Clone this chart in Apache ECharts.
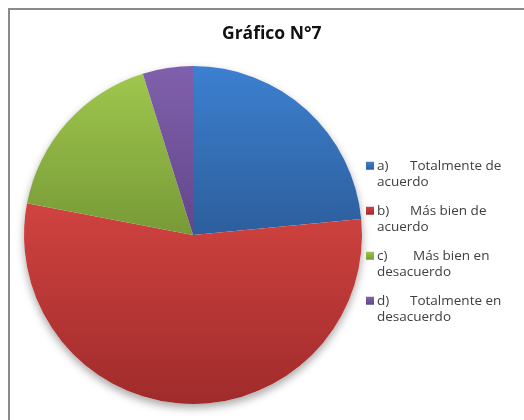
<!DOCTYPE html>
<html>
<head>
<meta charset="utf-8">
<script src="https://cdn.jsdelivr.net/npm/echarts@6/dist/echarts.min.js"></script>
<style>
    html, body {margin: 0; padding: 0; background: #fff;}
    #main {width: 524px; height: 420px;}
</style>
</head>
<body>
<div id="main"></div>
<script>
// datos
var categorias = ['a)', 'b)', 'c)', 'd)'];
var textos = ['Totalmente de\nacuerdo', 'Más bien de\nacuerdo', 'Más bien en\ndesacuerdo', 'Totalmente en\ndesacuerdo'];
var valores = [23.5, 54.5, 17.2, 4.8];
var coloresArriba = ['#3c80d0', '#d04340', '#9fc64d', '#8060ac'];
var coloresAbajo = ['#2d5e9c', '#a02b2b', '#779a37', '#62468a'];

var nombres = categorias.map(function (c, i) { return c + ' ' + textos[i]; });

var myChart = echarts.init(document.getElementById('main'));

var datos = valores.map(function (v, i) {
    return {
        value: v,
        name: nombres[i],
        itemStyle: {
            color: new echarts.graphic.LinearGradient(0, 0, 0, 1, [
                {offset: 0, color: coloresArriba[i]},
                {offset: 1, color: coloresAbajo[i]}
            ])
        }
    };
});

var option = {
    animation: false,
    graphic: [{
        type: 'rect',
        shape: {x: 9, y: 9, width: 600, height: 500},
        style: {fill: 'none', stroke: '#8a8a8a', lineWidth: 2},
        silent: true,
        z: -10
    }],
    title: {
        text: 'Gráfico N°7',
        left: 217,
        top: 20,
        textStyle: {
            color: '#111',
            fontFamily: 'Open Sans',
            fontWeight: 'bold',
            fontSize: 17.5
        }
    },
    legend: {
        orient: 'vertical',
        left: 366,
        top: 141,
        padding: 0,
        itemWidth: 8,
        itemHeight: 8,
        itemGap: -4.5,
        icon: 'rect',
        data: nombres,
        formatter: function (name) {
            var i = nombres.indexOf(name);
            var p = i === 2 ? 'p2' : 'p';
            return '{' + p + '|' + categorias[i] + '}{t|' + textos[i].replace('\n', '}\n{t|') + '}';
        },
        textStyle: {
            color: '#404040',
            fontFamily: 'Open Sans',
            fontSize: 13.5,
            lineHeight: 16.5,
            padding: [16.5, 0, 0, -2],
            rich: {
                p: {width: 33, fontFamily: 'Open Sans', fontSize: 13.5, color: '#404040', lineHeight: 16.5},
                p2: {width: 36, fontFamily: 'Open Sans', fontSize: 13.5, color: '#404040', lineHeight: 16.5},
                t: {fontFamily: 'Open Sans', fontSize: 13.5, color: '#404040', lineHeight: 16.5}
            }
        }
    },
    series: [
        {
            name: 'sombra',
            type: 'pie',
            center: [193, 235],
            radius: 169,
            silent: true,
            label: {show: false},
            data: [{value: 1, name: 'sombra', itemStyle: {
                color: '#ffffff',
                shadowBlur: 8,
                shadowOffsetY: 4,
                shadowColor: 'rgba(0,0,0,0.35)'
            }}],
            z: 1
        },
        {
            name: 'Gráfico N°7',
            type: 'pie',
            center: [193, 235],
            radius: 169,
            startAngle: 90,
            clockwise: true,
            label: {show: false},
            labelLine: {show: false},
            emphasis: {disabled: true},
            data: datos,
            z: 2
        }
    ]
};

myChart.setOption(option);
</script>
</body>
</html>
